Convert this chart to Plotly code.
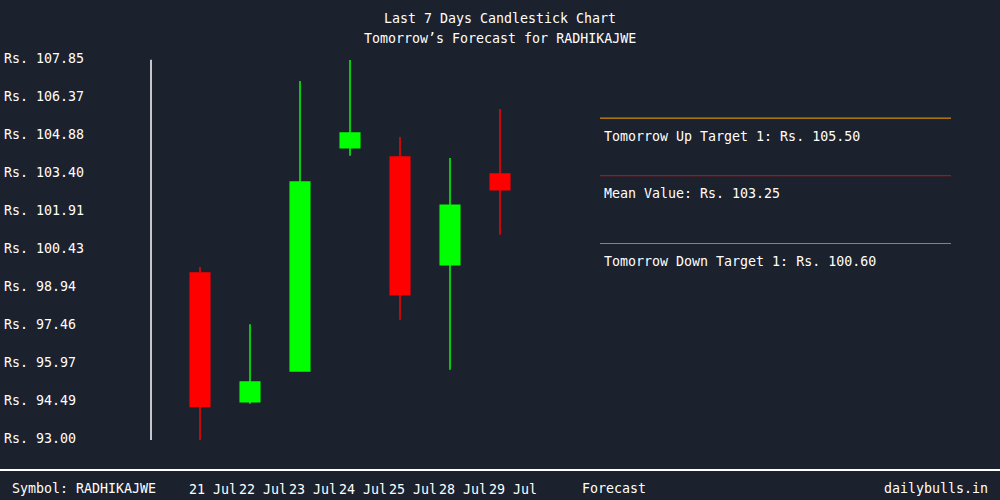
import plotly.graph_objects as go

# last 7 sessions
dates = ["21 Jul", "22 Jul", "23 Jul", "24 Jul", "25 Jul", "28 Jul", "29 Jul"]
open_ = [99.45, 94.42, 95.62, 104.34, 103.98, 99.77, 103.32]
high = [99.68, 97.45, 106.95, 107.77, 104.76, 103.94, 105.86]
low = [92.88, 94.34, 95.62, 104.03, 97.62, 95.67, 100.94]
close = [94.23, 95.19, 103.00, 104.92, 98.60, 102.10, 102.70]

y_ticks = [93.00, 94.49, 95.97, 97.46, 98.94, 100.43, 101.91, 103.40, 104.88, 106.37, 107.85]

# forecast targets
target_names = ["Tomorrow Up Target 1", "Mean Value", "Tomorrow Down Target 1"]
target_values = [105.50, 103.25, 100.60]
target_colors = ["#ffa500", "#cc1111", "#22cc22"]

symbol = "RADHIKAJWE"
bg = "#1c212e"
font = "DejaVu Sans Mono"
txt = dict(color="white", size=13.3, family=font)

fig = go.Figure()

fig.add_trace(go.Candlestick(
    x=list(range(len(dates))), open=open_, high=high, low=low, close=close,
    increasing=dict(line=dict(color="#00ff00", width=1.5), fillcolor="#00ff00"),
    decreasing=dict(line=dict(color="#ff0000", width=1.5), fillcolor="#ff0000"),
    whiskerwidth=0, showlegend=False, hoverinfo="skip",
))

for name, val, col in zip(target_names, target_values, target_colors):
    fig.add_trace(go.Scatter(
        x=[0, 1], y=[val, val], xaxis="x2", yaxis="y", mode="lines",
        line=dict(color=col, width=1), showlegend=False, hoverinfo="skip",
    ))
    fig.add_annotation(
        x=0, y=val, xref="x2", yref="y", text=f"{name}: Rs. {val:.2f}",
        showarrow=False, xanchor="left", yanchor="middle", xshift=2, yshift=-18,
        font=txt,
    )

# white axis line at the left of the candle area
fig.add_shape(type="line", xref="x domain", yref="y domain", x0=0, x1=0, y0=0, y1=0.99,
              line=dict(color="white", width=1.5))
# footer separator
fig.add_shape(type="line", xref="paper", yref="paper", x0=0, x1=1, y0=-30 / 384, y1=-30 / 384,
              line=dict(color="white", width=2))

# second title line
fig.add_annotation(x=0.5, y=1 + 18 / 384, xref="paper", yref="paper",
                   text=f"Tomorrow’s Forecast for {symbol}", showarrow=False,
                   xanchor="center", yanchor="middle", font=txt)

fig.add_annotation(x=0.01, y=-48 / 384, xref="paper", yref="paper", text=f"Symbol: {symbol}",
                   showarrow=False, xanchor="left", yanchor="middle", font=txt)
fig.add_annotation(x=0.58, y=-48 / 384, xref="paper", yref="paper", text="Forecast",
                   showarrow=False, xanchor="left", yanchor="middle", font=txt)
fig.add_annotation(x=0.99, y=-48 / 384, xref="paper", yref="paper", text="dailybulls.in",
                   showarrow=False, xanchor="right", yanchor="middle", font=txt)

fig.update_layout(
    width=1000, height=500,
    paper_bgcolor=bg, plot_bgcolor=bg,
    margin=dict(l=0, r=0, t=56, b=60),
    font=dict(family=font, color="white", size=13.3),
    boxgap=0.44,
    title=dict(text="Last 7 Days Candlestick Chart",
               x=0.5, xanchor="center", y=1 - 18 / 500, yanchor="middle", font=txt),
    xaxis=dict(domain=[0.151, 0.56], range=[-0.98, 7.2], tickvals=list(range(len(dates))),
               ticktext=dates, showgrid=False, zeroline=False, showline=False, ticks="",
               tickangle=0, rangeslider=dict(visible=False), ticklabelstandoff=40,
               ticklabelshift=13, tickfont=txt),
    xaxis2=dict(domain=[0.6, 0.951], range=[0, 1], anchor="y", visible=False),
    yaxis=dict(range=[92.922, 107.928], anchor="free", position=0, ticklabelposition="inside",
               ticklabeloverflow="allow",
               tickvals=y_ticks, ticktext=[f"Rs. {v:.2f}" for v in y_ticks],
               showgrid=False, zeroline=False, showline=False, ticks="",
               tickfont=txt),
)

fig.write_html("out.html", config={"displayModeBar": False},
               post_script="document.body.style.margin='0';document.body.style.overflow='hidden';")
